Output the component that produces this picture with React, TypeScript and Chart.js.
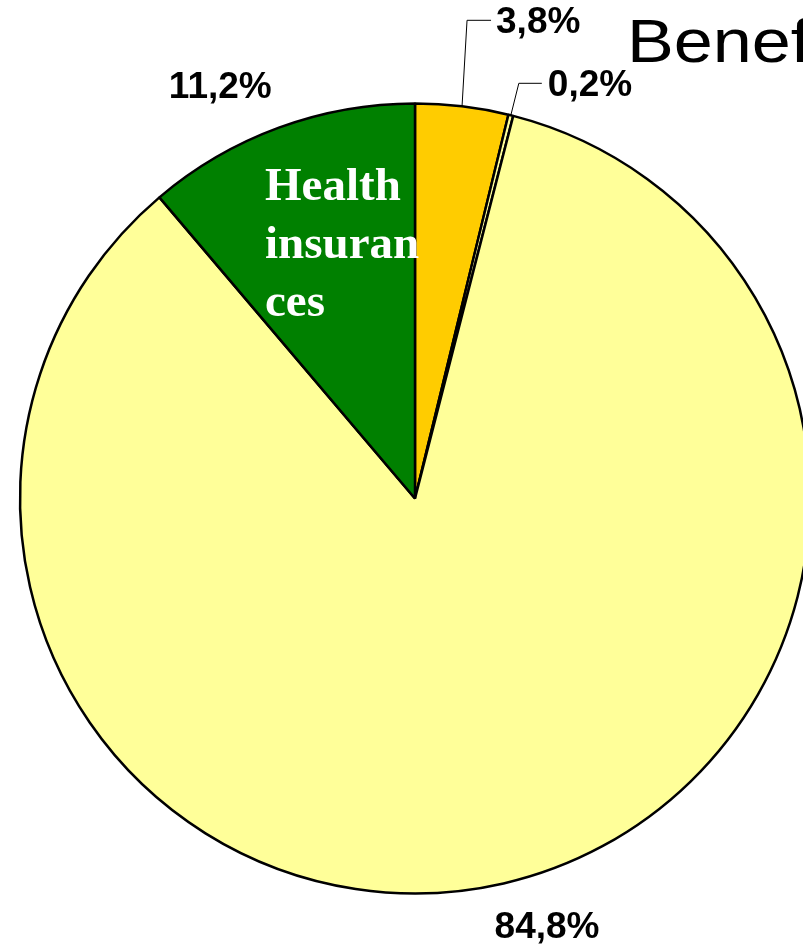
import React, { useEffect, useRef } from "react";
import { Chart, registerables } from "chart.js";

Chart.register(...registerables);

// ---- data ----
const categories = ["Other benefits", "Minor benefits", "Main benefits", "Health insurances"];
const values = [3.8, 0.2, 84.8, 11.2];
const valueLabels = ["3,8%", "0,2%", "84,8%", "11,2%"];
const sliceColors = ["#FFCC00", "#FFFF99", "#FFFF99", "#008000"];
const titleText = "Benefits";
const insideLabelLines = ["Health", "insuran", "ces"];
const insideLabelIndex = 3;

// ---- label placement (style, relative to each slice's rim midpoint) ----
type Placement = { dx: number; dy: number; leader?: [number, number][] };
const placements: Placement[] = [
  { dx: 34, dy: -73, leader: [[5, -86], [29, -86]] },
  { dx: 37, dy: -19, leader: [[8, -32], [31, -32]] },
  { dx: -9, dy: 55 },
  { dx: -110, dy: -30 },
];

const labelsPlugin = {
  id: "customLabels",
  afterDatasetsDraw(chart: any) {
    const ctx: CanvasRenderingContext2D = chart.ctx;
    const meta = chart.getDatasetMeta(0);
    ctx.save();
    meta.data.forEach((arc: any, i: number) => {
      const { x, y, startAngle, endAngle, outerRadius } = arc.getProps(
        ["x", "y", "startAngle", "endAngle", "outerRadius"],
        true
      );
      const mid = (startAngle + endAngle) / 2;
      const rx = x + Math.cos(mid) * outerRadius;
      const ry = y + Math.sin(mid) * outerRadius;
      const p = placements[i];
      if (p.leader) {
        ctx.beginPath();
        ctx.strokeStyle = "#000";
        ctx.lineWidth = 1;
        ctx.moveTo(rx, ry);
        p.leader.forEach(([lx, ly]) => ctx.lineTo(rx + lx, ry + ly));
        ctx.stroke();
      }
      ctx.fillStyle = "#000";
      ctx.font = 'bold 37px "Liberation Sans", Arial, sans-serif';
      ctx.textAlign = "left";
      ctx.textBaseline = "alphabetic";
      ctx.fillText(valueLabels[i], rx + p.dx, ry + p.dy);

      if (i === insideLabelIndex) {
        ctx.fillStyle = "#FFFFFF";
        ctx.font = 'bold 47px "Liberation Serif", "Times New Roman", serif';
        insideLabelLines.forEach((line, k) => {
          ctx.fillText(line, x - 150, y - 299 + k * 58);
        });
      }
    });

    // title (partly outside the visible page, as in the reference)
    ctx.save();
    ctx.translate(627, 62);
    ctx.scale(1.15, 1);
    ctx.fillStyle = "#000";
    ctx.font = '61px "Liberation Sans", Arial, sans-serif';
    ctx.textAlign = "left";
    ctx.textBaseline = "alphabetic";
    ctx.fillText(titleText, 0, 0);
    ctx.restore();

    ctx.restore();
  },
};

export default function App() {
  const ref = useRef<HTMLCanvasElement | null>(null);

  useEffect(() => {
    if (!ref.current) return;
    const chart = new Chart(ref.current, {
      type: "pie",
      data: {
        labels: categories,
        datasets: [
          {
            data: values,
            backgroundColor: sliceColors,
            borderColor: "#000000",
            borderWidth: 2.5,
          },
        ],
      },
      options: {
        responsive: false,
        animation: false,
        radius: 395,
        layout: { padding: { left: 20, right: 20, top: 103, bottom: 51 } },
        plugins: {
          legend: { display: false },
          tooltip: { enabled: false },
          title: { display: false },
        },
      } as any,
      plugins: [labelsPlugin],
    });
    return () => chart.destroy();
  }, []);

  return (
    <div
      style={{
        position: "fixed",
        left: 0,
        top: 0,
        width: 803,
        height: 945,
        overflow: "hidden",
        background: "#fff",
      }}
    >
      <canvas ref={ref} width={830} height={945} style={{ display: "block" }} />
    </div>
  );
}
